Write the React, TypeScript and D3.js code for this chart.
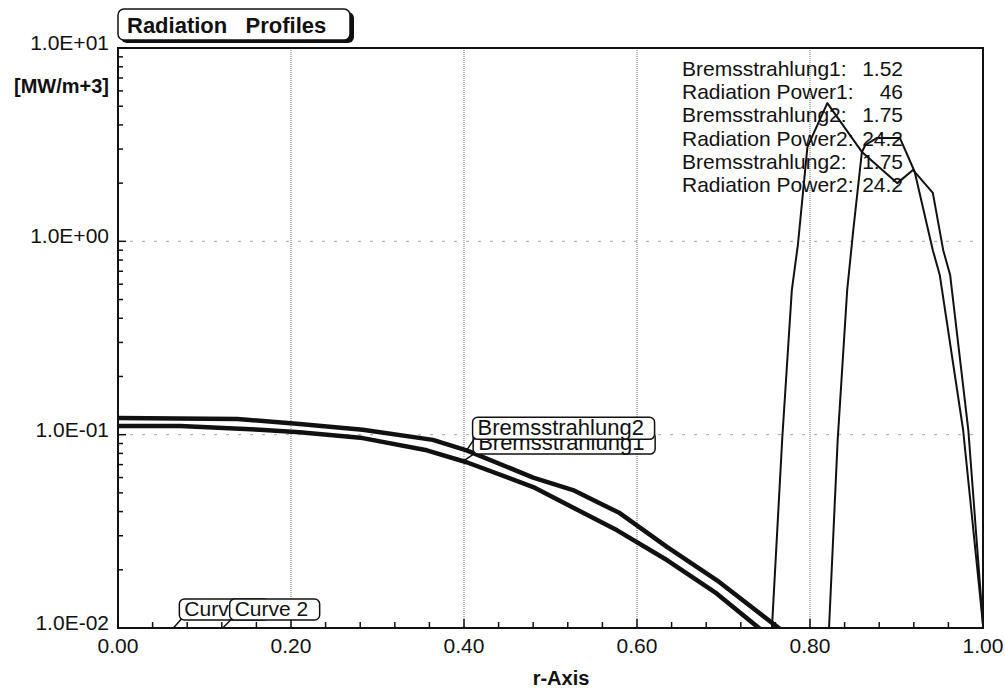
import { useRef, useEffect } from 'react';
import * as d3 from 'd3';

// Bremsstrahlung profiles (r, value)
const bremsR1 = [0, 0.072, 0.164, 0.21, 0.283, 0.357, 0.403, 0.48, 0.577, 0.635, 0.692, 0.742];
const brems1 = [0.111, 0.111, 0.106, 0.103, 0.096, 0.083, 0.072, 0.0536, 0.032, 0.0224, 0.0151, 0.0099];
const bremsR2 = [0, 0.138, 0.21, 0.283, 0.364, 0.403, 0.48, 0.526, 0.58, 0.635, 0.692, 0.765];
const brems2 = [0.122, 0.1205, 0.1135, 0.106, 0.094, 0.083, 0.06, 0.0517, 0.0393, 0.0262, 0.0177, 0.0099];

// Radiation power profiles
const powerR1 = [0.756, 0.768, 0.779, 0.786, 0.797, 0.82, 0.86, 0.901, 0.919, 0.942, 0.954, 0.962, 0.983, 1.0];
const power1 = [0.01, 0.097, 0.56, 0.96, 3.07, 5.19, 2.9, 2.0, 2.34, 1.78, 0.9, 0.67, 0.106, 0.0104];
const powerR2 = [0.822, 0.832, 0.843, 0.85, 0.86, 0.864, 0.877, 0.904, 0.921, 0.942, 0.95, 0.977, 1.0];
const power2 = [0.01, 0.094, 0.56, 1.14, 2.9, 3.15, 3.42, 3.42, 2.29, 0.9, 0.67, 0.106, 0.0104];

const legendNames = ['Bremsstrahlung1:', 'Radiation Power1:', 'Bremsstrahlung2:', 'Radiation Power2:', 'Bremsstrahlung2:', 'Radiation Power2:'];
const legendValues = ['1.52', '46', '1.75', '24.2', '1.75', '24.2'];

const xTicks = [0, 0.2, 0.4, 0.6, 0.8, 1.0];
const yTicks = [10, 1, 0.1, 0.01];
const yTickLabels = ['1.0E+01', '1.0E+00', '1.0E-01', '1.0E-02'];

// curve labels: text, r at which the label points, value it points to
const curveLabels = [
    { text: 'Curve 1', r: 0.064, v: 0.01 },
    { text: 'Curve 2', r: 0.121, v: 0.01 },
];
const bremsLabels = [
    { text: 'Bremsstrahlung1', r: 0.399, v: 0.073 },
    { text: 'Bremsstrahlung2', r: 0.403, v: 0.083 },
];

const FONT = '"Liberation Sans", Arial, Helvetica, sans-serif';

const App = () => {
    const ref = useRef<SVGSVGElement>(null);

    useEffect(() => {
        document.body.style.margin = '0';
        const svg = d3.select(ref.current);
        svg.selectAll('*').remove();

        const left = 118, right = 983, top = 48, bottom = 628;
        const x = d3.scaleLinear().domain([0, 1]).range([left, right]);
        const y = d3.scaleLog().domain([0.01, 10]).range([bottom, top]);

        svg.append('rect').attr('width', 1005).attr('height', 692).attr('fill', '#fff');

        svg.append('clipPath').attr('id', 'plot-clip')
            .append('rect')
            .attr('x', left).attr('y', top)
            .attr('width', right - left).attr('height', bottom - top);

        // vertical grid
        svg.selectAll('.vgrid')
            .data(xTicks.slice(1, -1))
            .enter().append('line')
            .attr('x1', d => x(d)).attr('x2', d => x(d))
            .attr('y1', top).attr('y2', bottom)
            .attr('stroke', '#9a9a9a')
            .attr('stroke-width', 1.5)
            .attr('stroke-dasharray', '1,1');

        // faint horizontal grid at decades
        svg.selectAll('.hgrid')
            .data([1, 0.1])
            .enter().append('line')
            .attr('x1', left).attr('x2', right)
            .attr('y1', d => y(d)).attr('y2', d => y(d))
            .attr('stroke', '#666')
            .attr('stroke-width', 1)
            .attr('stroke-dasharray', '3,9')
            .attr('opacity', 0.6);

        // frame
        svg.append('rect')
            .attr('x', left).attr('y', top)
            .attr('width', right - left).attr('height', bottom - top)
            .attr('fill', 'none')
            .attr('stroke', '#111')
            .attr('stroke-width', 2);

        // x ticks (every 0.04, inward)
        const xMinor = d3.range(0, 26).map(i => i * 0.04);
        svg.selectAll('.xtick')
            .data(xMinor)
            .enter().append('line')
            .attr('x1', d => x(d)).attr('x2', d => x(d))
            .attr('y1', bottom)
            .attr('y2', (_, i) => bottom - (i % 5 === 0 ? 9 : 6))
            .attr('stroke', '#111')
            .attr('stroke-width', 1.5);

        // y ticks (log minors, inward)
        const yMinor: number[] = [];
        [0.01, 0.1, 1].forEach(dec => {
            for (let k = 1; k <= 9; k++) yMinor.push(dec * k);
        });
        yMinor.push(10);
        svg.selectAll('.ytick')
            .data(yMinor)
            .enter().append('line')
            .attr('x1', left)
            .attr('x2', d => left + (yTicks.includes(+d.toPrecision(3)) ? 8 : 5))
            .attr('y1', d => y(d)).attr('y2', d => y(d))
            .attr('stroke', '#111')
            .attr('stroke-width', 1.5);

        // tick labels
        svg.selectAll('.xlabel')
            .data(xTicks)
            .enter().append('text')
            .attr('x', d => x(d))
            .attr('y', 653)
            .attr('text-anchor', 'middle')
            .attr('font-family', FONT)
            .attr('font-size', 21)
            .attr('fill', '#111')
            .text(d => d.toFixed(2));

        svg.selectAll('.ylabel')
            .data(yTicks)
            .enter().append('text')
            .attr('x', 109)
            .attr('y', d => y(d) + 2)
            .attr('text-anchor', 'end')
            .attr('font-family', FONT)
            .attr('font-size', 21)
            .attr('fill', '#111')
            .text((_, i) => yTickLabels[i]);

        svg.append('text')
            .attr('x', 109).attr('y', 93)
            .attr('text-anchor', 'end')
            .attr('font-family', FONT)
            .attr('font-weight', 'bold')
            .attr('font-size', 20)
            .attr('fill', '#111')
            .text('[MW/m+3]');

        svg.append('text')
            .attr('x', 561).attr('y', 685)
            .attr('text-anchor', 'middle')
            .attr('font-family', FONT)
            .attr('font-weight', 'bold')
            .attr('font-size', 20)
            .attr('fill', '#111')
            .text('r-Axis');

        // title box with shadow
        svg.append('rect')
            .attr('x', 121).attr('y', 12)
            .attr('width', 233).attr('height', 31)
            .attr('rx', 6)
            .attr('fill', '#111');
        svg.append('rect')
            .attr('x', 118).attr('y', 9)
            .attr('width', 232).attr('height', 31)
            .attr('rx', 6)
            .attr('fill', '#fff')
            .attr('stroke', '#111')
            .attr('stroke-width', 1.5);
        svg.append('text')
            .attr('x', 127).attr('y', 33)
            .attr('font-family', FONT)
            .attr('font-weight', 'bold')
            .attr('font-size', 22)
            .attr('fill', '#111')
            .attr('xml:space', 'preserve')
            .style('white-space', 'pre')
            .text('Radiation   Profiles');

        // data lines
        const line = d3.line<[number, number]>()
            .x(d => x(d[0]))
            .y(d => y(d[1]));

        const plot = svg.append('g').attr('clip-path', 'url(#plot-clip)');
        const series = [
            { r: bremsR1, v: brems1, w: 4.5 },
            { r: bremsR2, v: brems2, w: 4.5 },
            { r: powerR1, v: power1, w: 2 },
            { r: powerR2, v: power2, w: 2 },
        ];
        series.forEach(s => {
            plot.append('path')
                .datum(s.r.map((r, i) => [r, s.v[i]] as [number, number]))
                .attr('d', line)
                .attr('fill', 'none')
                .attr('stroke', '#111')
                .attr('stroke-width', s.w)
                .attr('stroke-linejoin', 'round');
        });

        // legend text (no background)
        const legend = svg.append('g');
        legend.selectAll('.lname')
            .data(legendNames)
            .enter().append('text')
            .attr('x', 682)
            .attr('y', (_, i) => 76 + i * 23.2)
            .attr('font-family', FONT)
            .attr('font-size', 21)
            .attr('fill', '#111')
            .text(d => d);
        legend.selectAll('.lval')
            .data(legendValues)
            .enter().append('text')
            .attr('x', 903)
            .attr('y', (_, i) => 76 + i * 23.2)
            .attr('text-anchor', 'end')
            .attr('font-family', FONT)
            .attr('font-size', 21)
            .attr('fill', '#111')
            .text(d => d);

        // label boxes with leader lines
        const drawLabel = (lab, dx, dy, w, h, size) => {
            const ax = x(lab.r), ay = y(lab.v);
            const bx = ax + dx, by = ay + dy;
            svg.append('line')
                .attr('x1', ax).attr('y1', ay)
                .attr('x2', bx + 2).attr('y2', by + h - 1)
                .attr('stroke', '#111').attr('stroke-width', 1.5);
            svg.append('rect')
                .attr('x', bx).attr('y', by)
                .attr('width', w).attr('height', h)
                .attr('rx', 5)
                .attr('fill', '#fff')
                .attr('stroke', '#111')
                .attr('stroke-width', 1.5);
            svg.append('text')
                .attr('x', bx + 5).attr('y', by + h - 4)
                .attr('font-family', FONT)
                .attr('font-size', size)
                .attr('fill', '#111')
                .text(lab.text);
        };

        drawLabel(curveLabels[0], 6, -29, 90, 21, 21);
        drawLabel(curveLabels[1], 7, -29, 90, 21, 21);
        drawLabel(bremsLabels[0], 10, -29, 182, 22, 22);
        drawLabel(bremsLabels[1], 6, -33, 182, 22, 22);
    }, []);

    return <svg ref={ref} width={1005} height={692} style={{ display: 'block' }}></svg>;
};

export default App;
